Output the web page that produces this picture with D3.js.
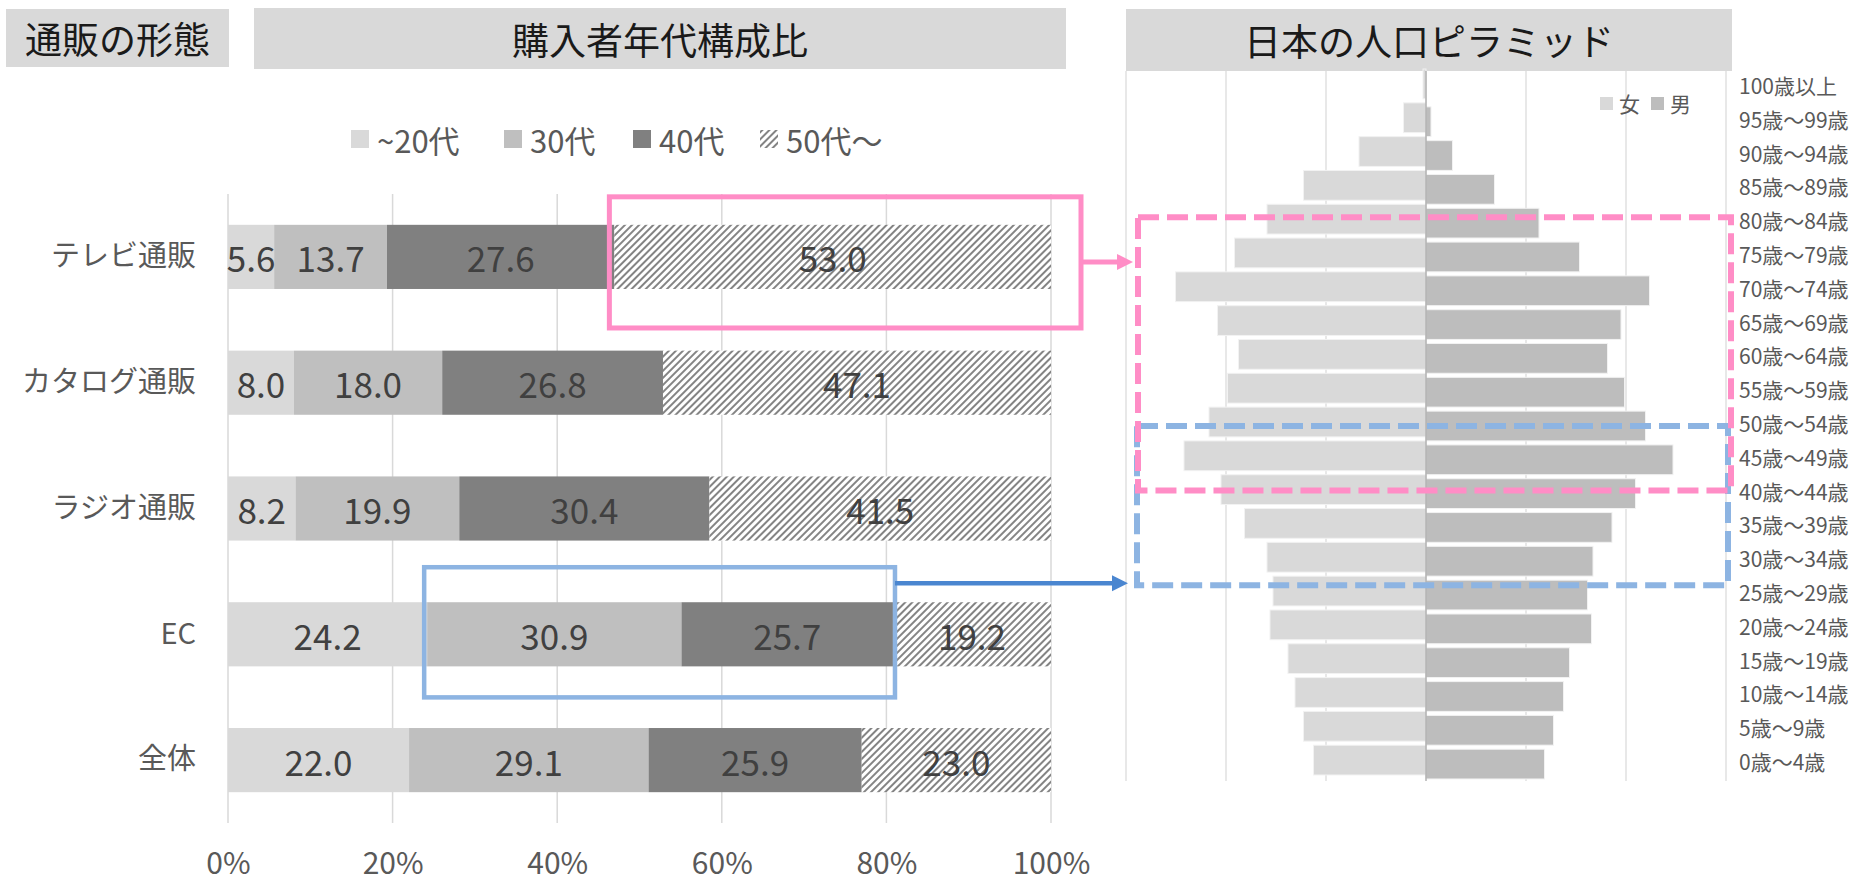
<!DOCTYPE html>
<html>
<head>
<meta charset="utf-8">
<script src="https://cdn.jsdelivr.net/npm/d3@7"></script>
<style>
  body { margin: 0; background: #fff; }
  text { font-family: "Noto Sans CJK JP", "Noto Sans", sans-serif; }
</style>
</head>
<body>
<div id="chart"></div>
<script>
// buyer age mix per shopping channel (%)
var channels = ["テレビ通販", "カタログ通販", "ラジオ通販", "EC", "全体"];
var ageGroups = ["~20代", "30代", "40代", "50代～"];
var under20 = [5.6, 8.0, 8.2, 24.2, 22.0];
var age30s = [13.7, 18.0, 19.9, 30.9, 29.1];
var age40s = [27.6, 26.8, 30.4, 25.7, 25.9];
var over50 = [53.0, 47.1, 41.5, 19.2, 23.0];
var pctTicks = [0, 0.2, 0.4, 0.6, 0.8, 1];

// japan population pyramid (万人)
var ageBands = ["100歳以上", "95歳～99歳", "90歳～94歳", "85歳～89歳", "80歳～84歳",
  "75歳～79歳", "70歳～74歳", "65歳～69歳", "60歳～64歳", "55歳～59歳", "50歳～54歳",
  "45歳～49歳", "40歳～44歳", "35歳～39歳", "30歳～34歳", "25歳～29歳", "20歳～24歳",
  "15歳～19歳", "10歳～14歳", "5歳～9歳", "0歳～4歳"];
var female = [6, 45, 134, 245, 318, 383, 501, 417, 375, 397, 434, 484, 410, 363, 318, 306, 312, 276, 262, 245, 225];
var male = [1, 10, 53, 137, 226, 307, 447, 390, 363, 397, 439, 494, 419, 372, 334, 323, 331, 287, 275, 255, 237];
var popTicks = [-600, -400, -200, 200, 400, 600];

var pink = "#ff8dc6";
var lightBlue = "#8db4e2";
var darkBlue = "#4a86d0";

var svg = d3.select("#chart").append("svg")
  .attr("width", 1851)
  .attr("height", 882);

// hatch for the 50s series
var defs = svg.append("defs");
var hatch = defs.append("pattern")
  .attr("id", "hatch")
  .attr("patternUnits", "userSpaceOnUse")
  .attr("width", 5)
  .attr("height", 5)
  .attr("patternTransform", "rotate(45)");
hatch.append("rect").attr("width", 5).attr("height", 5).attr("fill", "#fff");
hatch.append("line")
  .attr("x1", 1).attr("y1", 0).attr("x2", 1).attr("y2", 5)
  .attr("stroke", "#6e6e6e").attr("stroke-width", 1.7);

var segColors = ["#d9d9d9", "#bfbfbf", "#808080", "url(#hatch)"];

// grey title boxes
function header(x0, y0, x1, y1, label) {
  svg.append("rect")
    .attr("x", x0).attr("y", y0)
    .attr("width", x1 - x0).attr("height", y1 - y0)
    .attr("fill", "#d9d9d9");
  svg.append("text")
    .attr("x", (x0 + x1) / 2)
    .attr("y", (y0 + y1) / 2)
    .attr("text-anchor", "middle")
    .attr("dominant-baseline", "central")
    .attr("font-size", 37)
    .attr("fill", "#1a1a1a")
    .text(label);
}
header(6, 9, 229, 67, "通販の形態");
header(254, 8, 1066, 69, "購入者年代構成比");
header(1126, 9, 1732, 71, "日本の人口ピラミッド");

// ---------- left: 100% stacked bars ----------
var xScale = d3.scaleLinear().domain([0, 1]).range([228, 1051]);
var yScale = d3.scaleBand()
  .domain(channels)
  .range([194, 823])
  .paddingInner(0.49)
  .paddingOuter(0.245);

var left = svg.append("g");

left.selectAll(".grid")
  .data(pctTicks)
  .enter()
  .append("line")
  .attr("x1", d => xScale(d)).attr("x2", d => xScale(d))
  .attr("y1", 194).attr("y2", 823)
  .attr("stroke", "#d9d9d9")
  .attr("stroke-width", 1.5);

var xAxis = d3.axisBottom(xScale)
  .tickValues(pctTicks)
  .tickFormat(d3.format(".0%"))
  .tickSize(0)
  .tickPadding(30);
var xg = left.append("g")
  .attr("transform", "translate(0, 823)")
  .call(xAxis);
xg.select(".domain").remove();
xg.selectAll("text").attr("font-size", 30).attr("fill", "#595959")
  .style("font-family", "'Noto Sans CJK JP', sans-serif");

var yAxis = d3.axisLeft(yScale).tickSize(0).tickPadding(32);
var yg = left.append("g")
  .attr("transform", "translate(228, 0)")
  .call(yAxis);
yg.select(".domain").remove();
yg.selectAll("text").attr("font-size", 29).attr("fill", "#595959")
  .style("font-family", "'Noto Sans CJK JP', sans-serif");

var rows = channels.map(function(c, i) {
  var r = { channel: c };
  r[ageGroups[0]] = under20[i];
  r[ageGroups[1]] = age30s[i];
  r[ageGroups[2]] = age40s[i];
  r[ageGroups[3]] = over50[i];
  return r;
});
var stacked = d3.stack().keys(ageGroups).offset(d3.stackOffsetExpand)(rows);

var layers = left.selectAll(".layer")
  .data(stacked)
  .enter()
  .append("g")
  .attr("fill", (d, i) => segColors[i]);

layers.selectAll("rect")
  .data(d => d)
  .enter()
  .append("rect")
  .attr("x", d => xScale(d[0]))
  .attr("width", d => xScale(d[1]) - xScale(d[0]))
  .attr("y", d => yScale(d.data.channel))
  .attr("height", yScale.bandwidth());

stacked.forEach(function(s) {
  left.selectAll(null)
    .data(s)
    .enter()
    .append("text")
    .attr("x", d => (xScale(d[0]) + xScale(d[1])) / 2)
    .attr("y", d => yScale(d.data.channel) + yScale.bandwidth() / 2)
    .attr("text-anchor", "middle")
    .attr("dominant-baseline", "central")
    .attr("font-size", 35)
    .attr("fill", "#404040")
    .text(d => d.data[s.key].toFixed(1));
});

// legend
var legendX = [351, 504, 633, 760];
ageGroups.forEach(function(g, i) {
  left.append("rect")
    .attr("x", legendX[i]).attr("y", 130)
    .attr("width", 18).attr("height", 18)
    .attr("fill", segColors[i]);
  left.append("text")
    .attr("x", legendX[i] + 26).attr("y", 139)
    .attr("dominant-baseline", "central")
    .attr("font-size", 31)
    .attr("fill", "#595959")
    .text(g);
});

// ---------- right: population pyramid ----------
var xP = d3.scaleLinear().domain([-600, 600]).range([1126, 1726]);
var yP = d3.scaleBand()
  .domain(ageBands)
  .range([71, 781])
  .paddingInner(0.12)
  .paddingOuter(0.06);
var bw = yP.bandwidth();

var right = svg.append("g");

right.selectAll(".pgrid")
  .data(popTicks)
  .enter()
  .append("line")
  .attr("x1", d => xP(d)).attr("x2", d => xP(d))
  .attr("y1", 71).attr("y2", 781)
  .attr("stroke", "#d9d9d9")
  .attr("stroke-width", 1.2);

right.selectAll(".fbar")
  .data(female)
  .enter()
  .append("rect")
  .attr("x", d => xP(-d))
  .attr("width", d => xP(0) - xP(-d))
  .attr("y", (d, i) => yP(ageBands[i]) - 4)
  .attr("height", bw)
  .attr("fill", "#d9d9d9")
  .attr("stroke", "#f2f2f2")
  .attr("stroke-width", 1);

right.selectAll(".mbar")
  .data(male)
  .enter()
  .append("rect")
  .attr("x", xP(0))
  .attr("width", d => xP(d) - xP(0))
  .attr("y", (d, i) => yP(ageBands[i]))
  .attr("height", bw)
  .attr("fill", "#bdbdbd")
  .attr("stroke", "#f2f2f2")
  .attr("stroke-width", 1);

right.append("line")
  .attr("x1", xP(0)).attr("x2", xP(0))
  .attr("y1", 71).attr("y2", 781)
  .attr("stroke", "#a0a0a0")
  .attr("stroke-width", 1.2);

right.selectAll(".age")
  .data(ageBands)
  .enter()
  .append("text")
  .attr("x", 1739)
  .attr("y", d => yP(d) + bw / 2 - 3)
  .attr("dominant-baseline", "central")
  .attr("font-size", 21)
  .attr("fill", "#595959")
  .text(d => d);

// pyramid legend
var sexLabels = ["女", "男"];
var sexColors = ["#d9d9d9", "#bdbdbd"];
var sexX = [1600, 1651];
sexLabels.forEach(function(s, i) {
  right.append("rect")
    .attr("x", sexX[i]).attr("y", 97)
    .attr("width", 13).attr("height", 13)
    .attr("fill", sexColors[i]);
  right.append("text")
    .attr("x", sexX[i] + 19).attr("y", 103)
    .attr("dominant-baseline", "central")
    .attr("font-size", 21)
    .attr("fill", "#595959")
    .text(s);
});

// ---------- highlight annotations ----------
var note = svg.append("g").attr("fill", "none");

function arrow(x0, x1, y, color, w) {
  note.append("line")
    .attr("x1", x0).attr("x2", x1 - 14)
    .attr("y1", y).attr("y2", y)
    .attr("stroke", color).attr("stroke-width", w);
  note.append("path")
    .attr("d", "M" + (x1 - 16) + "," + (y - 8) + "L" + x1 + "," + y + "L" + (x1 - 16) + "," + (y + 8) + "Z")
    .attr("fill", color);
}

var tv = stacked[3][0];
var ec30 = stacked[1][3];
var ec40 = stacked[2][3];

var pinkBox = {
  x0: xScale(tv[0]) - 5,
  x1: xScale(1) + 30,
  y0: yScale("テレビ通販") - 28,
  y1: yScale("テレビ通販") + yScale.bandwidth() + 39
};
var blueBox = {
  x0: xScale(ec30[0]) - 3,
  x1: xScale(ec40[1]) + 2,
  y0: yScale("EC") - 35,
  y1: yScale("EC") + yScale.bandwidth() + 31
};
var pinkDash = {
  x0: xP(-600) + 12,
  x1: xP(600) + 5,
  y0: yP("80歳～84歳") + bw / 2 - 6,
  y1: yP("40歳～44歳") + bw / 2 - 3
};
var blueDash = {
  x0: xP(-600) + 11,
  x1: xP(600) + 2,
  y0: yP("50歳～54歳") + bw / 2,
  y1: yP("25歳～29歳") + 5
};

function box(b, color, w, dash) {
  note.append("rect")
    .attr("x", b.x0).attr("y", b.y0)
    .attr("width", b.x1 - b.x0).attr("height", b.y1 - b.y0)
    .attr("stroke", color).attr("stroke-width", w)
    .attr("stroke-dasharray", dash || null);
}

box(pinkBox, pink, 5);
box(blueBox, lightBlue, 4.5);
box(blueDash, lightBlue, 6, "21,8");
box(pinkDash, pink, 6, "21,8");

arrow(pinkBox.x1, pinkDash.x0 - 5, yScale("テレビ通販") + yScale.bandwidth() / 2 + 5, pink, 5);
arrow(blueBox.x1, blueDash.x0 - 9, blueBox.y0 + 16, darkBlue, 4.5);
</script>
</body>
</html>
